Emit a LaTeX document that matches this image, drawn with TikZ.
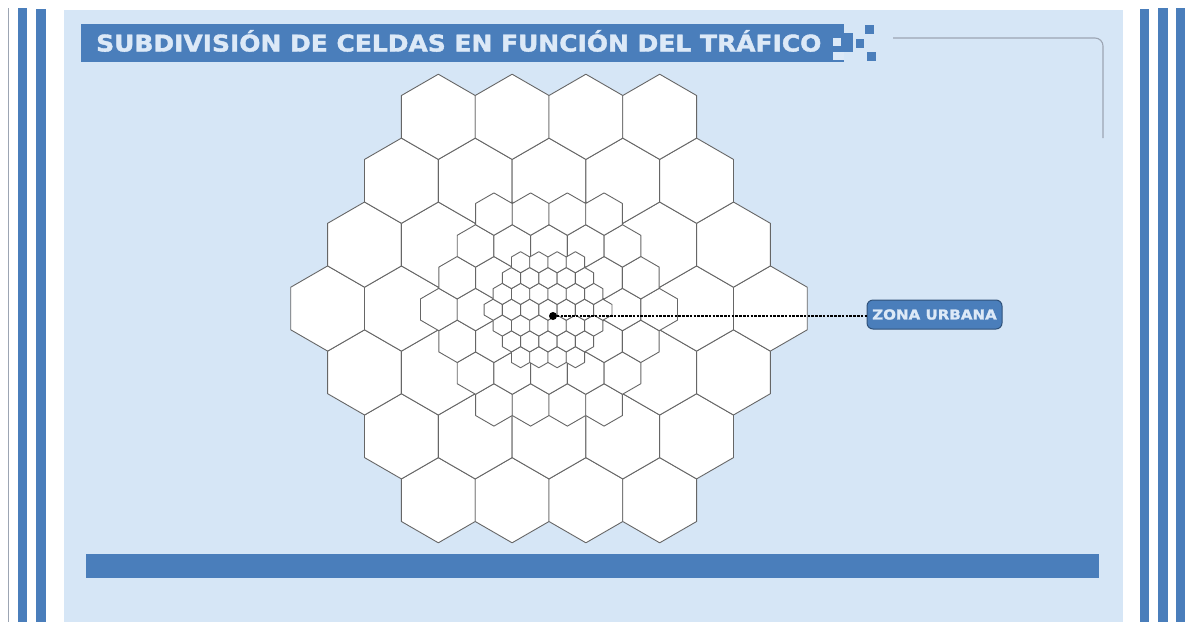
\documentclass[tikz,border=0pt]{standalone}
\usepackage{fontspec}
\setmainfont{DejaVu Sans}
\newfontfamily\heavyface{DejaVu Sans}[BoldFeatures={FakeBold=1.6}]
\definecolor{panel}{HTML}{D6E6F6}
\definecolor{band}{HTML}{4A7EBB}
\definecolor{pale}{HTML}{DCE9F7}
\definecolor{hexline}{HTML}{666666}
\definecolor{corner}{HTML}{9CA5B3}
\tikzset{
  stripe/.style={fill=band,draw=none},
  hexcell/.style={fill=white,draw=hexline,line width=0.9pt,line join=round},
  tag/.style={fill=band,draw=band!65!black,line width=1pt,rounded corners=6pt,minimum width=135pt,minimum height=29pt,inner sep=0pt,text=pale},
  dotmark/.style={circle,fill=black,inner sep=0pt,minimum size=8pt},
  lightsq/.style={fill=pale,draw=none},
  darksq/.style={fill=band,draw=none}
}
% hexagon: centre x, centre y, circumradius
\newcommand{\hexcell}[3]{%
  \draw[hexcell] (#1,#2+#3) -- (#1+0.866*#3,#2+0.5*#3) -- (#1+0.866*#3,#2-0.5*#3) -- (#1,#2-#3) -- (#1-0.866*#3,#2-0.5*#3) -- (#1-0.866*#3,#2+0.5*#3) -- cycle;}
% radius-3 hexagonal cluster
\newcommand{\hexcluster}[3]{%
  \foreach \rw in {-3,...,3}{%
    \pgfmathsetmacro{\nn}{7-abs(\rw)}%
    \pgfmathsetmacro{\yy}{#2-1.5*#3*\rw}%
    \pgfmathtruncatemacro{\last}{\nn-1}%
    \foreach \ii in {0,...,\last}{%
      \pgfmathsetmacro{\xx}{#1+1.732*#3*(\ii-(\nn-1)/2)}%
      \hexcell{\xx}{\yy}{#3}%
    }%
  }}
\begin{document}
\begin{tikzpicture}[x=1pt,y=-1pt]
\useasboundingbox (0,0) rectangle (1185,622);
\fill[white] (0,0) rectangle (1185,622);
% panel
\fill[panel] (64,10) rectangle (1123,622);
% stripes
\draw[corner,line width=0.6pt] (8.5,8) -- (8.5,622);
\fill[stripe] (18,8) rectangle (27,622);
\fill[stripe] (36,9) rectangle (45.5,622);
\fill[stripe] (1139.5,9) rectangle (1149,622);
\fill[stripe] (1158,8) rectangle (1167.5,622);
\fill[stripe] (1176,8) rectangle (1185,622);
% title bar
\fill[stripe] (81,23.5) rectangle (844,62);
\fill[stripe] (844,33) rectangle (853,52);
\node[anchor=west,inner sep=0pt,text=pale] (title) at (96,41) {\scalebox{1.085}[1]{\fontsize{23}{23}\heavyface\bfseries SUBDIVISIÓN DE CELDAS EN FUNCIÓN DEL TRÁFICO}};
\fill[lightsq] (833,38) rectangle (840.5,45.5);
\fill[lightsq] (833,52) rectangle (844,60);
\fill[darksq] (865,25) rectangle (873.5,33.5);
\fill[darksq] (856,39) rectangle (864,47.5);
\fill[darksq] (867,52) rectangle (876,60.5);
% corner line
\draw[corner,line width=1.1pt,rounded corners=8pt] (893,38) -- (1103,38) -- (1103,138);
% hexagons
\hexcluster{549}{308.5}{42.6}
\hexcluster{549}{309.5}{21.2}
\hexcluster{548}{309.7}{10.55}
% bottom bar
\fill[stripe] (86,554) rectangle (1099,577.5);
% label
\node[tag] (zona) at (934.5,314.5) {\scalebox{1.1}[1]{\fontsize{13.7}{13.7}\heavyface\bfseries ZONA URBANA}};
\node[dotmark] (dot) at (553,316) {};
\draw[black,line width=1.2pt,dash pattern=on 2.6pt off 1.2pt] (dot.center) -- (zona.west |- dot.center);
\end{tikzpicture}
\end{document}
